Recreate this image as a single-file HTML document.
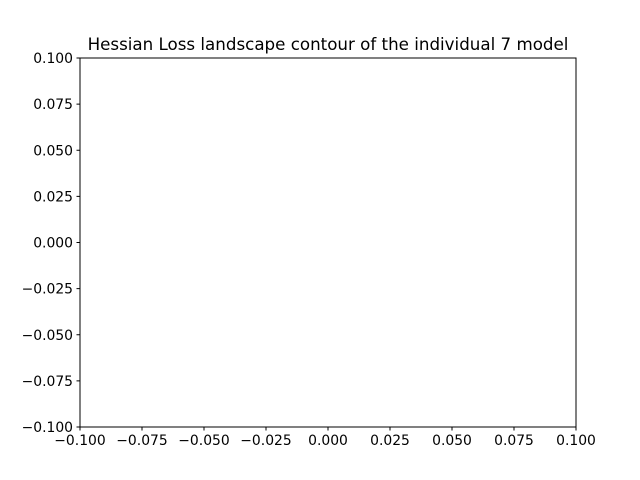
<!DOCTYPE html>
<html><head><meta charset="utf-8"><style>
body{margin:0;background:#fff;}
svg{display:block;font-family:"DejaVu Sans","Liberation Sans",sans-serif;}
</style></head><body>
<svg id="chart" width="640" height="480">
<rect x="0" y="0" width="640" height="480" fill="#fff"/>
<text x="328" y="50" text-anchor="middle" font-size="16.7" fill="#000">Hessian Loss landscape contour of the individual 7 model</text>
<rect x="80" y="58" width="496" height="369" fill="none" stroke="#000" stroke-width="1"/>
<g id="xt"></g><g id="yt"></g>
</svg>
<script>
const xTicks=[-0.1,-0.075,-0.05,-0.025,0,0.025,0.05,0.075,0.1];
const yTicks=[-0.1,-0.075,-0.05,-0.025,0,0.025,0.05,0.075,0.1];
const xLabels=["−0.100","−0.075","−0.050","−0.025","0.000","0.025","0.050","0.075","0.100"];
const yLabels=["−0.100","−0.075","−0.050","−0.025","0.000","0.025","0.050","0.075","0.100"];
const NS="http://www.w3.org/2000/svg";
const L=80,R=576,T=58,B=427;
const sx=v=>L+(v+0.1)/0.2*(R-L);
const sy=v=>B-(v+0.1)/0.2*(B-T);
const xt=document.getElementById('xt'),yt=document.getElementById('yt');
xTicks.forEach((v,i)=>{
const x=sx(v);
const l=document.createElementNS(NS,'line');
l.setAttribute('x1',x);l.setAttribute('x2',x);l.setAttribute('y1',B);l.setAttribute('y2',B+3.5);l.setAttribute('stroke','#000');


xt.appendChild(l);
const t=document.createElementNS(NS,'text');
t.setAttribute('x',x);t.setAttribute('y',B+18);t.setAttribute('text-anchor','middle');t.setAttribute('font-size','13.9');
t.textContent=xLabels[i];


xt.appendChild(t);
});
yTicks.forEach((v,i)=>{
const y=sy(v);
const l=document.createElementNS(NS,'line');
l.setAttribute('x1',L-3.5);l.setAttribute('x2',L);l.setAttribute('y1',y);l.setAttribute('y2',y);l.setAttribute('stroke','#000');


yt.appendChild(l);
const t=document.createElementNS(NS,'text');
t.setAttribute('x',L-7);t.setAttribute('y',y+5);t.setAttribute('text-anchor','end');t.setAttribute('font-size','13.9');
t.textContent=yLabels[i];


yt.appendChild(t);
});
</script>
</body></html>
